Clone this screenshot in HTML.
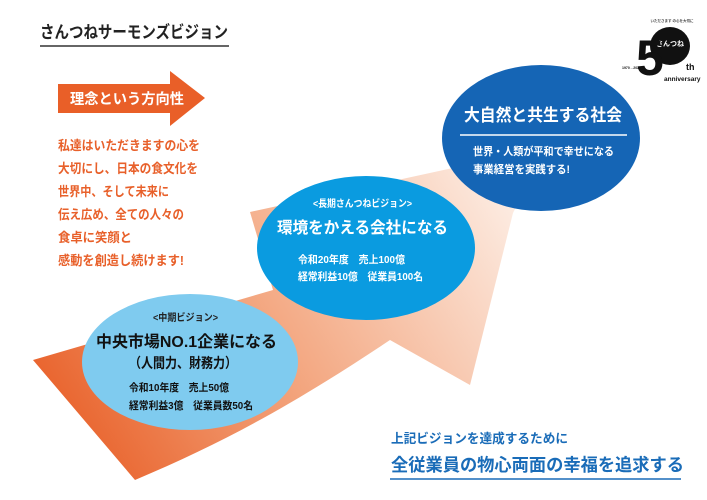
<!DOCTYPE html>
<html><head><meta charset="utf-8"><style>
html,body{margin:0;padding:0;background:#fff}
svg{display:block}
text{font-family:"Liberation Sans","Noto Sans CJK JP",sans-serif;font-weight:bold}
</style></head><body>
<svg width="707" height="500" viewBox="0 0 707 500" xmlns="http://www.w3.org/2000/svg">
<defs>
<linearGradient id="g" x1="60" y1="460" x2="520" y2="180" gradientUnits="userSpaceOnUse">
<stop offset="0" stop-color="#e85d25"/>
<stop offset="0.45" stop-color="#f3a57e"/>
<stop offset="1" stop-color="#fdf0e8"/>
</linearGradient>
</defs>
<text x="40" y="38" font-size="17" fill="#222" textLength="188" lengthAdjust="spacingAndGlyphs">さんつねサーモンズビジョン</text>
<line x1="40" y1="46" x2="229" y2="46" stroke="#333" stroke-width="1.5"/>
<!-- logo -->
<text x="672" y="22" font-size="3.5" fill="#444" text-anchor="middle" font-weight="normal">いただきます の心を大切に</text>
<ellipse cx="670" cy="46" rx="20" ry="19" fill="#111"/>
<text x="670" y="46" font-size="7" fill="#fff" text-anchor="middle">さんつね</text>
<text x="636" y="75" font-size="50" fill="#111">5</text>
<text x="686" y="70" font-size="9" fill="#111">th</text>
<text x="664" y="81" font-size="6.5" fill="#111">anniversary</text>
<text x="622" y="69" font-size="3.5" fill="#111">1970→2020</text>
<!-- orange arrow label -->
<polygon points="58,84 170,84 170,71 205,98 170,126 170,113 58,113" fill="#e95f28"/>
<text x="70" y="104" font-size="14.5" fill="#fff" textLength="114" lengthAdjust="spacingAndGlyphs">理念という方向性</text>
<g font-size="13" fill="#e8602a">
<text x="58" y="150" textLength="142" lengthAdjust="spacingAndGlyphs">私達はいただきますの心を</text>
<text x="58" y="173" textLength="140" lengthAdjust="spacingAndGlyphs">大切にし、日本の食文化を</text>
<text x="58" y="196" textLength="111" lengthAdjust="spacingAndGlyphs">世界中、そして未来に</text>
<text x="58" y="219" textLength="126" lengthAdjust="spacingAndGlyphs">伝え広め、全ての人々の</text>
<text x="58" y="242" textLength="74" lengthAdjust="spacingAndGlyphs">食卓に笑顔と</text>
<text x="58" y="265" textLength="126" lengthAdjust="spacingAndGlyphs">感動を創造し続けます!</text>
</g>
<!-- big arrow -->
<path d="M33,360 L273,290 L250,212 L545,148 L513,213 L470,385 L390,340 C300,400 230,440 135,480 Z" fill="url(#g)"/>
<!-- circles -->
<ellipse cx="541" cy="138" rx="99" ry="73" fill="#1565b5"/>
<text x="464" y="121" font-size="17" fill="#fff" textLength="158" lengthAdjust="spacingAndGlyphs">大自然と共生する社会</text>
<line x1="460" y1="135" x2="627" y2="135" stroke="#fff" stroke-width="1.5"/>
<text x="473" y="155" font-size="11" fill="#fff" textLength="141" lengthAdjust="spacingAndGlyphs">世界・人類が平和で幸せになる</text>
<text x="473" y="173" font-size="11" fill="#fff" textLength="97" lengthAdjust="spacingAndGlyphs">事業経営を実践する!</text>
<ellipse cx="366" cy="248" rx="109" ry="72" fill="#0a9be0"/>
<text x="313" y="207" font-size="10" fill="#fff" font-weight="normal" textLength="99" lengthAdjust="spacingAndGlyphs">&lt;長期さんつねビジョン&gt;</text>
<text x="277" y="233" font-size="16" fill="#fff" textLength="171" lengthAdjust="spacingAndGlyphs">環境をかえる会社になる</text>
<text x="298" y="263" font-size="10.5" fill="#fff" font-weight="normal" textLength="107" lengthAdjust="spacingAndGlyphs">令和20年度　売上100億</text>
<text x="298" y="280" font-size="10.5" fill="#fff" font-weight="normal" textLength="125" lengthAdjust="spacingAndGlyphs">経常利益10億　従業員100名</text>
<ellipse cx="190" cy="362" rx="108" ry="68" fill="#7fcbef"/>
<text x="153" y="321" font-size="10" fill="#222" font-weight="normal" textLength="65" lengthAdjust="spacingAndGlyphs">&lt;中期ビジョン&gt;</text>
<text x="96" y="347" font-size="16" fill="#111" textLength="181" lengthAdjust="spacingAndGlyphs">中央市場NO.1企業になる</text>
<text x="129" y="368" font-size="14" fill="#111" textLength="108" lengthAdjust="spacingAndGlyphs">（人間力、財務力）</text>
<text x="129" y="391" font-size="10.5" fill="#111" font-weight="normal" textLength="100" lengthAdjust="spacingAndGlyphs">令和10年度　売上50億</text>
<text x="129" y="409" font-size="10.5" fill="#111" font-weight="normal" textLength="124" lengthAdjust="spacingAndGlyphs">経常利益3億　従業員数50名</text>
<!-- bottom -->
<text x="391" y="443" font-size="13" fill="#1a6cb8" textLength="177" lengthAdjust="spacingAndGlyphs">上記ビジョンを達成するために</text>
<text x="391" y="471" font-size="17.5" fill="#1a6cb8" textLength="293" lengthAdjust="spacingAndGlyphs">全従業員の物心両面の幸福を追求する</text>
<line x1="390" y1="479" x2="681" y2="479" stroke="#1a6cb8" stroke-width="1.5"/>
</svg>
</body></html>
